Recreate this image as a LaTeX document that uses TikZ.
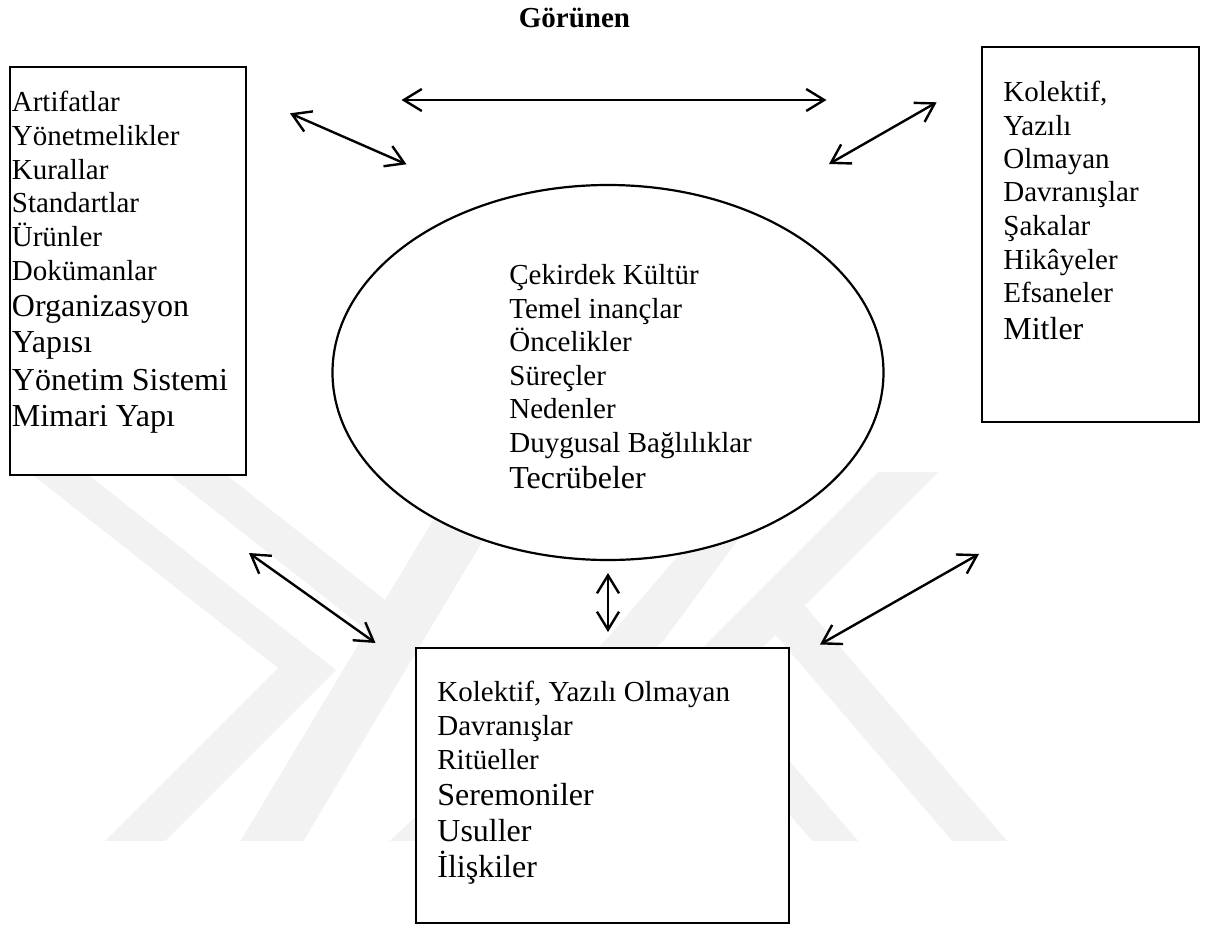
\documentclass[tikz,border=0pt]{standalone}
\usepackage{fontspec}
\setmainfont{Liberation Serif}
\usetikzlibrary{arrows.meta,shapes.geometric}
\begin{document}
\begin{tikzpicture}[x=0.5pt,y=-0.5pt,
  frame/.style={draw=black, line width=1.4pt, fill=white, inner sep=0pt},
  core/.style={ellipse, draw=black, line width=1.1pt, fill=white, inner sep=0pt},
  item/.style={anchor=base west, inner sep=0pt, font=\fontsize{14.5}{17}\selectfont},
  bigitem/.style={item, font=\fontsize{16}{19}\selectfont},
  link/.style={line width=1.2pt,
    arrows={Straight Barb[length=9pt,width=11pt]-Straight Barb[length=9pt,width=11pt]}},
  stripe/.style={fill=black!5, draw=none}]
\useasboundingbox (0,0) rectangle (1207,927);

% faint background stripes
\begin{scope}
  \clip (0,472) rectangle (1207,840);
  \fill[stripe] (20,465) -- (76,465) -- (336,670) -- (156,850) -- (96,850) -- (278,668) -- cycle;
  \fill[stripe] (157,465) -- (214,465) -- (427,633) -- (370,633) -- cycle;
  \fill[stripe] (235,850) -- (298,850) -- (519,480) -- (457,480) -- cycle;
  \fill[stripe] (380,850) -- (606,640) -- (700,530) -- (760,510) -- (664,640) -- (428,850) -- cycle;
  \fill[stripe] (650,700) -- (710,700) -- (945,465) -- (885,465) -- cycle;
  \fill[stripe] (750,605) -- (804,605) -- (1015,850) -- (960,850) -- cycle;
  \fill[stripe] (691,700) -- (737,700) -- (866,850) -- (820,850) -- cycle;
\end{scope}

% title
\node[anchor=base, inner sep=0pt, font=\bfseries\fontsize{14.5}{17}\selectfont] (title) at (574.5,27) {Görünen};

% boxes and core ellipse
\node[frame, minimum width=118pt, minimum height=204pt] (artefacts) at (128,271) {};
\node[frame, minimum width=108.5pt, minimum height=187.5pt] (informal) at (1090.5,234.5) {};
\node[frame, minimum width=186.5pt, minimum height=137.5pt] (practices) at (602.5,785.5) {};
\node[core, minimum width=275.5pt, minimum height=187.5pt] (core) at (608,372.5) {};

% left box text
\node[item] (a1) at (11.5,111.5) {Artifatlar};
\node[item] (a2) at (11.5,145.5) {Yönetmelikler};
\node[item] (a3) at (11.5,179) {Kurallar};
\node[item] (a4) at (11.5,212.5) {Standartlar};
\node[item] (a5) at (11.5,246) {Ürünler};
\node[item] (a6) at (11.5,280) {Dokümanlar};
\node[bigitem] (a7) at (11.5,316) {Organizasyon};
\node[bigitem] (a8) at (11.5,352.5) {Yapısı};
\node[bigitem] (a9) at (11.5,390) {Yönetim Sistemi};
\node[bigitem] (a10) at (11.5,426.5) {Mimari Yapı};

% right box text
\node[item] (b1) at (1003,101.7) {Kolektif,};
\node[item] (b2) at (1003,135) {Yazılı};
\node[item] (b3) at (1003,168.3) {Olmayan};
\node[item] (b4) at (1003,201.7) {Davranışlar};
\node[item] (b5) at (1003,235.7) {Şakalar};
\node[item] (b6) at (1003,269) {Hikâyeler};
\node[item] (b7) at (1003,302.3) {Efsaneler};
\node[bigitem] (b8) at (1003,339) {Mitler};

% core text
\node[item] (c1) at (509,284) {Çekirdek Kültür};
\node[item] (c2) at (509,318.3) {Temel inançlar};
\node[item] (c3) at (509,351.7) {Öncelikler};
\node[item] (c4) at (509,385) {Süreçler};
\node[item] (c5) at (509,418.3) {Nedenler};
\node[item] (c6) at (509,452.7) {Duygusal Bağlılıklar};
\node[bigitem] (c7) at (509,488.3) {Tecrübeler};

% bottom box text
\node[item] (d1) at (437,701.7) {Kolektif, Yazılı Olmayan};
\node[item] (d2) at (437,735) {Davranışlar};
\node[item] (d3) at (437,769) {Ritüeller};
\node[bigitem] (d4) at (437,805) {Seremoniler};
\node[bigitem] (d5) at (437,841) {Usuller};
\node[bigitem] (d6) at (437,877.3) {İlişkiler};

% connector end points
\coordinate (topL) at (401.5,100);
\coordinate (topR) at (826.5,100);
\coordinate (artA) at (290,113.3);
\coordinate (artB) at (406.5,164.3);
\coordinate (infA) at (936.7,102.3);
\coordinate (infB) at (829,164);
\coordinate (lowA) at (249,553);
\coordinate (lowB) at (375.5,643);
\coordinate (midA) at (608,573);
\coordinate (midB) at (608,632);
\coordinate (rgtA) at (979,554);
\coordinate (rgtB) at (820,644.5);

% two-way connectors
\draw[link] (topL) -- (topR);
\draw[link] (artA) -- (artB);
\draw[link] (infA) -- (infB);
\draw[link] (lowA) -- (lowB);
\draw[link] (midA) -- (midB);
\draw[link] (rgtA) -- (rgtB);
\end{tikzpicture}
\end{document}
